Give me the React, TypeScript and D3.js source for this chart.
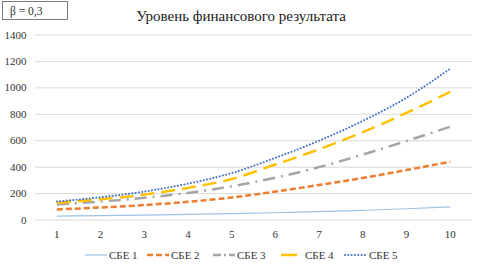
import React from "react";
import * as d3 from "d3";

const categories = [1, 2, 3, 4, 5, 6, 7, 8, 9, 10];
const sbe1 = [30, 33, 37, 42, 48, 55, 63, 73, 85, 100];
const sbe2 = [80, 95, 113, 138, 170, 215, 265, 318, 378, 441];
const sbe3 = [118, 140, 168, 205, 255, 320, 400, 495, 598, 706];
const sbe4 = [130, 157, 192, 243, 310, 420, 535, 665, 810, 970];
const sbe5 = [140, 172, 215, 275, 355, 470, 600, 750, 925, 1145];
const yTicks = [0, 200, 400, 600, 800, 1000, 1200, 1400];
const seriesNames = ["СБЕ 1", "СБЕ 2", "СБЕ 3", "СБЕ 4", "СБЕ 5"];
const title = "Уровень финансового результата";
const betaLabel = "β = 0,3";

const W = 478;
const H = 265;
const FONT = '"Liberation Serif", "Times New Roman", serif';

const styles = [
  { color: "#9DC3E6", width: 1.2, dash: "none", cap: "butt" },
  { color: "#ED7D31", width: 2.5, dash: "6 3", cap: "butt" },
  { color: "#A5A5A5", width: 2.5, dash: "12 6 2 6", cap: "butt" },
  { color: "#FFC000", width: 2.5, dash: "14 7", cap: "butt" },
  { color: "#4472C4", width: 2, dash: "0.1 3.2", cap: "round" },
];

export default function App() {
  const data = [sbe1, sbe2, sbe3, sbe4, sbe5];
  const x = d3
    .scalePoint<number>()
    .domain(categories)
    .range([35, 472])
    .padding(0.5);
  const y = d3.scaleLinear().domain([0, 1400]).range([220, 35]);
  const line = d3
    .line<number>()
    .x((_, i) => x(categories[i]) as number)
    .y((d) => y(d))
    .curve(d3.curveMonotoneX);

  const legendX = [85, 147, 213, 281, 345];
  const ts = { fontFamily: FONT };

  return (
    <svg
      width={W}
      height={H}
      style={{ position: "absolute", left: 0, top: 0, background: "#fff", fontFamily: FONT }}
    >
      <rect x={0} y={0} width={W} height={H} fill="#fff" />
      <rect x={2.5} y={1.5} width={65} height={18} fill="#fff" stroke="#595959" strokeWidth={0.8} />
      <text x={10} y={14.5} fontSize={11.5} fill="#333" style={ts}>
        {betaLabel}
      </text>
      <text x={241} y={21} fontSize={15} textAnchor="middle" fill="#1a1a1a" style={ts}>
        {title}
      </text>
      {yTicks.map((t) => (
        <g key={t}>
          <line x1={35} x2={472} y1={y(t)} y2={y(t)} stroke="#D9D9D9" strokeWidth={1} />
          <text x={26.5} y={y(t) + 3.5} fontSize={11} textAnchor="end" fill="#333" style={ts}>
            {t}
          </text>
        </g>
      ))}
      {categories.map((c) => (
        <text key={c} x={x(c)} y={238} fontSize={11} textAnchor="middle" fill="#333" style={ts}>
          {c}
        </text>
      ))}
      {data.map((s, i) => (
        <path
          key={i}
          d={line(s) as string}
          fill="none"
          stroke={styles[i].color}
          strokeWidth={styles[i].width}
          strokeDasharray={styles[i].dash}
          strokeLinecap={styles[i].cap as any}
        />
      ))}
      {seriesNames.map((n, i) => (
        <g key={n}>
          <line
            x1={legendX[i]}
            x2={legendX[i] + 22}
            y1={255}
            y2={255}
            stroke={styles[i].color}
            strokeWidth={styles[i].width}
            strokeDasharray={i === 2 ? "8 3 2 3" : i === 3 ? "16 6" : styles[i].dash}
            strokeLinecap={styles[i].cap as any}
          />
          <text x={legendX[i] + 24} y={259} fontSize={11} fill="#333" style={ts}>
            {n}
          </text>
        </g>
      ))}
    </svg>
  );
}
